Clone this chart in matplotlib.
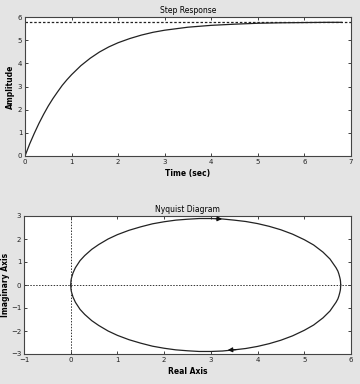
import matplotlib
matplotlib.use("Agg")
import matplotlib.pyplot as plt
import numpy as np

# step response
t = [0, 0.1, 0.2, 0.3, 0.4, 0.5, 0.6, 0.7, 0.8, 0.9, 1.0, 1.2, 1.4, 1.6, 1.8, 2.0,
     2.25, 2.5, 2.75, 3.0, 3.5, 4.0, 4.5, 5.0, 5.5, 6.0, 6.5, 6.8]
amp = [0, 0.52, 0.98, 1.41, 1.8, 2.16, 2.48, 2.77, 3.05, 3.29, 3.51, 3.9, 4.22, 4.49,
       4.71, 4.89, 5.07, 5.22, 5.34, 5.43, 5.56, 5.64, 5.69, 5.73, 5.75, 5.76, 5.77, 5.77]
final_value = 5.78

# nyquist curve (upper half, mirrored for lower half)
re_up = [0, 0.005, 0.01, 0.02, 0.05, 0.1, 0.2, 0.3, 0.45, 0.6, 0.8, 1.0, 1.25, 1.5, 1.75,
         2.0, 2.25, 2.5, 2.75, 2.89, 3.0, 3.25, 3.5, 3.75, 4.0, 4.25, 4.5, 4.75, 5.0,
         5.2, 5.4, 5.55, 5.68, 5.72, 5.74, 5.76, 5.77, 5.775, 5.78]
im_up = [0, 0.17, 0.24, 0.33, 0.53, 0.75, 1.06, 1.28, 1.55, 1.76, 2.0, 2.19, 2.38, 2.53,
         2.66, 2.75, 2.82, 2.86, 2.89, 2.89, 2.89, 2.87, 2.82, 2.76, 2.67, 2.55, 2.4,
         2.21, 1.97, 1.74, 1.43, 1.13, 0.75, 0.6, 0.48, 0.33, 0.24, 0.17, 0]

bg = "#e4e4e4"
fs = 5

fig = plt.figure(figsize=(3.6, 3.84), dpi=100, facecolor=bg)
ax1 = fig.add_axes([25/360, 1-156/384, 326/360, 139/384])
ax2 = fig.add_axes([24/360, 1-354/384, 327/360, 138/384])

def style(ax):
    ax.tick_params(direction="in", top=True, right=True, labelsize=fs, length=2.5,
                   width=0.6, pad=2, colors="#222222")
    for s in ax.spines.values():
        s.set_linewidth(0.8)
        s.set_color("#444444")

# step response
ax1.plot(t, amp, color="#222222", lw=0.9)
ax1.axhline(final_value, color="#222222", lw=0.9, ls=(0, (2, 1.5)))
ax1.set_xlim(0, 7)
ax1.set_ylim(0, 6)
ax1.set_xticks(range(0, 8))
ax1.set_yticks(range(0, 7))
ax1.set_title("Step Response", fontsize=5.5, pad=3)
ax1.set_xlabel("Time (sec)", fontsize=5.5, fontweight="bold", labelpad=3)
ax1.set_ylabel("Amplitude", fontsize=5.5, fontweight="bold", labelpad=2)
style(ax1)

# nyquist
re_up = np.array(re_up)
im_up = np.array(im_up)
ax2.plot(re_up, im_up, color="#222222", lw=0.9)
ax2.plot(re_up, -im_up, color="#222222", lw=0.9)
ax2.axhline(0, color="#333333", lw=0.7, ls=(0, (1.5, 1.5)))
ax2.axvline(0, color="#333333", lw=0.7, ls=(0, (1.5, 1.5)))
ax2.annotate("", xy=(3.3, 2.865), xytext=(3.05, 2.885),
             arrowprops=dict(arrowstyle="-|>", color="#111111", lw=0.8, mutation_scale=7))
ax2.annotate("", xy=(3.3, -2.84), xytext=(3.6, -2.80),
             arrowprops=dict(arrowstyle="-|>", color="#111111", lw=0.8, mutation_scale=7))
ax2.set_xlim(-1, 6)
ax2.set_ylim(-3, 3)
ax2.set_xticks(range(-1, 7))
ax2.set_yticks(range(-3, 4))
ax2.set_title("Nyquist Diagram", fontsize=5.5, pad=3)
ax2.set_xlabel("Real Axis", fontsize=5.5, fontweight="bold", labelpad=3)
ax2.set_ylabel("Imaginary Axis", fontsize=5.5, fontweight="bold", labelpad=0.5)
style(ax2)

fig.savefig("out.png", dpi=100, facecolor=bg)
